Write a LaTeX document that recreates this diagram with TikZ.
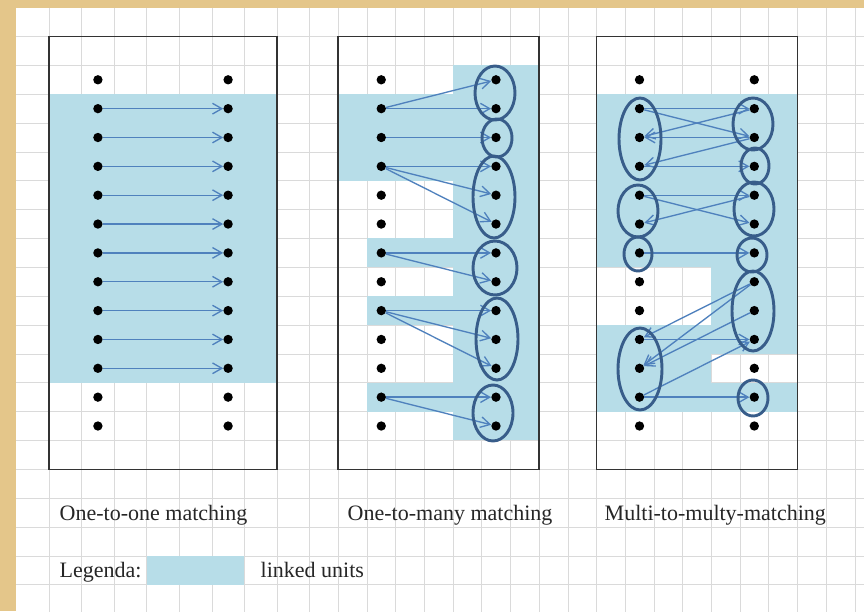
\documentclass[tikz,border=0pt]{standalone}
\usepackage{fontspec}
\setmainfont{Liberation Serif}
\usetikzlibrary{arrows.meta}
\definecolor{paper}{RGB}{228,198,138}
\definecolor{linked}{RGB}{183,221,232}
\definecolor{linkline}{RGB}{79,129,189}
\definecolor{groupline}{RGB}{56,93,138}
\definecolor{gridline}{RGB}{218,218,218}

\begin{document}
\begin{tikzpicture}[x=0.75pt, y=-0.75pt, >={Straight Barb[length=7pt,width=8pt]},
  dot/.style={circle, fill=black, inner sep=0pt, minimum size=7pt},
  link/.style={->, linkline, line width=1pt},
  group/.style={groupline, line width=2.2pt},
  frame/.style={draw=black!80, line width=1.1pt},
  caption/.style={anchor=base west, font=\fontsize{16.5}{19}\selectfont, text=black!85}]
  \useasboundingbox (0,0) rectangle (864,611);
  % sheet with its cell grid
  \fill[paper] (0,0) rectangle (864,611);
  \fill[white] (16.4,7.6) rectangle (864,611);
  \foreach \i in {1,...,9} \draw[gridline] ({16.4+32.57*\i},7.6) -- ++(0,604);
  \foreach \i in {1,...,19} \draw[gridline] ({309.5+28.7*\i},7.6) -- ++(0,604);
  \foreach \k in {0,...,20} \draw[gridline] (16.4,{36.5+28.85*\k}) -- (864,{36.5+28.85*\k});

  % linked units
  \fill[linked] (49,94.2) rectangle (277,382.7);
  \fill[linked] (453,65.35) rectangle (539.1,440.4);
  \fill[linked] (338.2,94.2) rectangle (453,180.75);
  \fill[linked] (366.9,238.45) rectangle (453,267.3);
  \fill[linked] (366.9,296.15) rectangle (453,325);
  \fill[linked] (366.9,382.7) rectangle (453,411.55);
  \fill[linked] (596.5,94.2) rectangle (797.4,267.3);
  \fill[linked] (711.3,267.3) rectangle (797.4,353.85);
  \fill[linked] (596.5,325) rectangle (711.3,411.55);
  \fill[linked] (711.3,382.7) rectangle (797.4,411.55);

  % frames
  \draw[frame] (49,36.5) rectangle (277,469.25);
  \draw[frame] (338.2,36.5) rectangle (539.1,469.25);
  \draw[frame] (596.5,36.5) rectangle (797.4,469.25);

  % units, 13 rows per column
  \foreach \r in {0,...,12} {
    \node[dot] (one-l\r) at (97.9,{79.8+28.85*\r}) {};
    \node[dot] (one-r\r) at (228.1,{79.8+28.85*\r}) {};
    \node[dot] (many-l\r) at (381.25,{79.8+28.85*\r}) {};
    \node[dot] (many-r\r) at (496,{79.8+28.85*\r}) {};
    \node[dot] (multi-l\r) at (639.5,{79.8+28.85*\r}) {};
    \node[dot] (multi-r\r) at (754.3,{79.8+28.85*\r}) {};
  }

  % one-to-one
  \foreach \r in {1,...,10} \draw[link] (one-l\r) -- (one-r\r);

  % one-to-many
  \foreach \a/\b in {1/0,1/1,2/2,3/3,3/4,3/5,6/6,6/7,8/8,8/9,8/10,11/11,11/12}
    \draw[link] (many-l\a) -- (many-r\b);
  \draw[group] (495,93) ellipse[x radius=20, y radius=27];
  \draw[group] (497,138) ellipse[x radius=15, y radius=19];
  \draw[group] (494,197) ellipse[x radius=21, y radius=41];
  \draw[group] (495,268) ellipse[x radius=22, y radius=27];
  \draw[group] (497,339) ellipse[x radius=21, y radius=41];
  \draw[group] (493,413) ellipse[x radius=20, y radius=28];

  % multi-to-multi, left to right
  \foreach \a/\b in {1/1,1/2,3/3,4/4,4/5,6/6,9/9,11/9,11/11}
    \draw[link] (multi-l\a) -- (multi-r\b);
  % multi-to-multi, right to left
  \foreach \b/\a in {1/2,2/2,2/3,4/5,7/9,7/10,8/10}
    \draw[link] (multi-r\b) -- (multi-l\a);
  \draw[group] (640,139) ellipse[x radius=21, y radius=41];
  \draw[group] (638,211) ellipse[x radius=20, y radius=26];
  \draw[group] (638,254) ellipse[x radius=14, y radius=17];
  \draw[group] (640,369) ellipse[x radius=22, y radius=41];
  \draw[group] (753,124) ellipse[x radius=20, y radius=26];
  \draw[group] (755,166) ellipse[x radius=14, y radius=18];
  \draw[group] (754,209) ellipse[x radius=20, y radius=27];
  \draw[group] (752,255) ellipse[x radius=15, y radius=17];
  \draw[group] (753,311) ellipse[x radius=21, y radius=40];
  \draw[group] (753,398) ellipse[x radius=15, y radius=18];

  % captions and legend
  \node[caption] (one-title) at (55,520) {One-to-one matching};
  \node[caption] (many-title) at (343,520) {One-to-many matching};
  \node[caption] (multi-title) at (600,520) {Multi-to-multy-matching};
  \node[caption] (legend-title) at (55,577) {Legenda:};
  \fill[linked] (146.7,555.8) rectangle (244.4,584.65);
  \node[caption] (legend-text) at (256,577) {linked units};
\end{tikzpicture}
\end{document}
